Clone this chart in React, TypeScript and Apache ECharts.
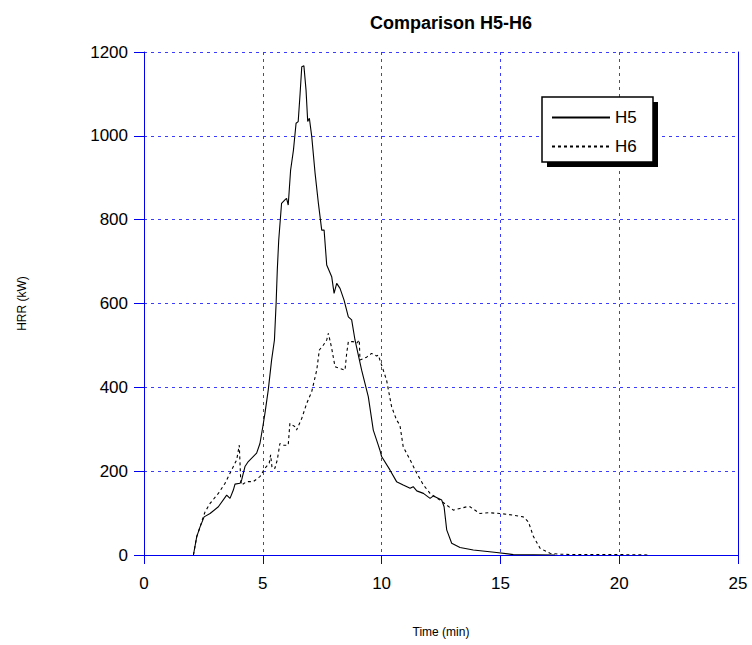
import React, { useEffect, useRef } from "react";
import * as echarts from "echarts";

const h5Time = [2.08, 2.22, 2.36, 2.53, 2.78, 3.13, 3.48, 3.62, 3.76, 3.83, 4.04, 4.11, 4.25, 4.39, 4.74, 4.88, 5.0, 5.09, 5.23, 5.37, 5.49, 5.56, 5.61, 5.67, 5.79, 5.93, 6.0, 6.07, 6.17, 6.29, 6.4, 6.49, 6.57, 6.64, 6.73, 6.82, 6.89, 6.96, 7.06, 7.2, 7.34, 7.48, 7.58, 7.69, 7.9, 8.0, 8.11, 8.25, 8.42, 8.6, 8.74, 8.88, 9.16, 9.44, 9.65, 9.86, 9.93, 10.0, 10.35, 10.63, 10.91, 11.2, 11.33, 11.48, 11.76, 12.04, 12.18, 12.53, 12.63, 12.74, 12.95, 13.3, 13.86, 14.84, 15.54, 17.3];
const h5HRR = [0, 44, 67, 91, 99, 115, 143, 135, 155, 169, 171, 179, 211, 223, 243, 266, 306, 338, 394, 465, 513, 600, 680, 751, 839, 847, 851, 835, 918, 966, 1030, 1034, 1101, 1165, 1167, 1109, 1034, 1042, 998, 911, 839, 775, 775, 692, 664, 624, 648, 636, 608, 568, 561, 513, 441, 378, 298, 262, 250, 235, 203, 175, 167, 159, 163, 153, 147, 135, 141, 131, 115, 60, 28, 18, 12, 6, 1, 0];

const h6Time = [2.08, 2.22, 2.36, 2.5, 2.57, 2.78, 3.13, 3.41, 3.69, 3.9, 4.01, 4.07, 4.11, 4.32, 4.6, 4.88, 5.09, 5.27, 5.33, 5.39, 5.51, 5.61, 5.72, 5.86, 6.07, 6.14, 6.36, 6.42, 6.64, 6.85, 7.06, 7.27, 7.38, 7.55, 7.69, 7.76, 7.9, 8.04, 8.25, 8.46, 8.53, 8.6, 8.81, 8.95, 9.06, 9.09, 9.37, 9.58, 9.79, 9.86, 10.07, 10.21, 10.42, 10.63, 10.77, 10.91, 11.2, 11.48, 11.76, 12.04, 12.46, 12.74, 13.02, 13.3, 13.58, 13.72, 14.14, 14.5, 14.98, 15.54, 15.96, 16.18, 16.39, 16.67, 17.09, 17.5, 18.0, 19.0, 20.0, 21.3];
const h6HRR = [0, 44, 67, 92, 103, 123, 147, 171, 203, 227, 262, 179, 167, 175, 175, 187, 207, 219, 239, 207, 207, 227, 266, 262, 262, 314, 306, 298, 326, 362, 390, 441, 489, 501, 513, 529, 493, 449, 445, 441, 481, 509, 509, 505, 513, 465, 472, 481, 475, 477, 441, 417, 354, 322, 310, 258, 227, 195, 167, 147, 131, 119, 107, 111, 115, 115, 99, 101, 99, 95, 91, 79, 44, 16, 4, 2, 1, 1, 1, 0];

const seriesNames = ["H5", "H6"];
const titleText = "Comparison H5-H6";
const xName = "Time (min)";
const yName = "HRR (kW)";

const zip = (a: number[], b: number[]) => a.map((t, i) => [t, b[i]]);

const FONT = "'Liberation Sans', Arial, sans-serif";
const BLUE = "#0000ee";
const GRID_BLUE = "#3c3cff";

export default function App() {
  const ref = useRef<HTMLDivElement>(null);
  useEffect(() => {
    if (!ref.current) return;
    const chart = echarts.init(ref.current, null, { renderer: "svg" });
    chart.setOption({
      animation: false,
      backgroundColor: "#fff",
      textStyle: { fontFamily: FONT },
      title: {
        text: titleText,
        left: 365,
        top: 9,
        textStyle: { fontSize: 18, fontWeight: "bold", color: "#000", fontFamily: FONT },
      },
      grid: { left: 144, right: 14, top: 52, bottom: 90, containLabel: false },
      legend: {
        orient: "vertical",
        left: 542,
        top: 97,
        padding: [12, 14, 12, 9],
        itemWidth: 58,
        itemHeight: 14,
        itemGap: 12,
        itemStyle: { opacity: 0 },
        textStyle: { fontSize: 17, color: "#000", fontFamily: FONT },
        data: seriesNames,
      },
      graphic: [
        { type: "rect", z: 3, shape: { x: 547, y: 102, width: 111, height: 65 }, style: { fill: "#000" } },
        { type: "rect", z: 3, shape: { x: 542, y: 97, width: 111, height: 65 }, style: { fill: "#fff", stroke: "#000", lineWidth: 1.5 } },
      ],
      xAxis: {
        type: "value",
        min: 0,
        max: 25,
        interval: 5,
        name: xName,
        nameLocation: "middle",
        nameGap: 71,
        nameTextStyle: { fontSize: 12, color: "#000", fontFamily: FONT },
        axisLine: { show: true, onZero: false, lineStyle: { color: BLUE, width: 1 } },
        axisTick: { show: true, length: 9, lineStyle: { color: BLUE } },
        axisLabel: { fontSize: 17, color: "#000", margin: 20, fontFamily: FONT },
        splitLine: { show: true, lineStyle: { color: GRID_BLUE, type: [3, 4], width: 1 } },
      },
      yAxis: [
        {
          type: "value",
          min: 0,
          max: 1200,
          interval: 200,
          name: yName,
          nameLocation: "middle",
          nameGap: 116,
          nameRotate: 90,
          nameTextStyle: { fontSize: 12, color: "#000", fontFamily: FONT },
          axisLine: { show: true, lineStyle: { color: BLUE, width: 1 } },
          axisTick: { show: true, length: 10, lineStyle: { color: BLUE } },
          axisLabel: { fontSize: 17, color: "#000", margin: 16, fontFamily: FONT, formatter: (v: number) => String(v) },
          splitLine: { show: true, lineStyle: { color: GRID_BLUE, type: [3, 4], width: 1 } },
        },
        {
          type: "value",
          min: 0,
          max: 1200,
          interval: 200,
          position: "right",
          axisLine: { show: true, lineStyle: { color: BLUE, width: 1 } },
          axisTick: { show: false },
          axisLabel: { show: false },
          splitLine: { show: false },
        },
      ],
      series: [
        {
          name: seriesNames[0],
          type: "line",
          data: zip(h5Time, h5HRR),
          showSymbol: false,
          symbol: "none",
          lineStyle: { color: "#000", width: 1.1, type: "solid" },
          itemStyle: { color: "#000" },
        },
        {
          name: seriesNames[1],
          type: "line",
          data: zip(h6Time, h6HRR),
          showSymbol: false,
          symbol: "none",
          lineStyle: { color: "#000", width: 1.1, type: [3, 3] },
          itemStyle: { color: "#000" },
        },
      ],
    });
    return () => chart.dispose();
  }, []);
  return <div ref={ref} style={{ position: "fixed", left: 0, top: 0, width: 752, height: 645 }} />;
}
